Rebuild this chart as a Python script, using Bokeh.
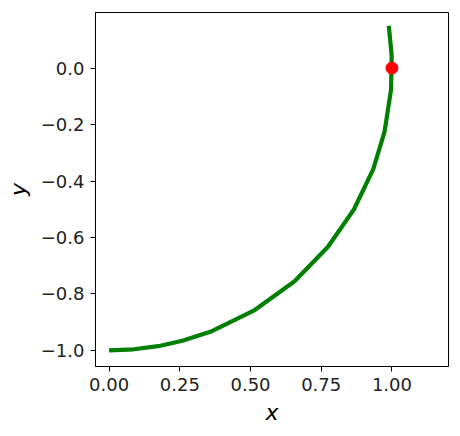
from bokeh.plotting import figure
from bokeh.models import FixedTicker, Range1d
from bokeh.embed import file_html
from bokeh.resources import INLINE

# curve points
curve_x = [0.000, 0.087, 0.174, 0.259, 0.358, 0.515, 0.656, 0.774, 0.866, 0.934, 0.974, 0.997, 0.999, 0.989]
curve_y = [-1.000, -0.996, -0.985, -0.966, -0.934, -0.857, -0.755, -0.633, -0.500, -0.358, -0.225, -0.075, 0.044, 0.150]
point_x = [1.0]
point_y = [0.0]
x_ticks = [0.0, 0.25, 0.5, 0.75, 1.0]
x_tick_labels = ["0.00", "0.25", "0.50", "0.75", "1.00"]
y_ticks = [-1.0, -0.8, -0.6, -0.4, -0.2, 0.0]
y_tick_labels = ["\u22121.0", "\u22120.8", "\u22120.6", "\u22120.4", "\u22120.2", "0.0"]

p = figure(width=452, height=430, output_backend="svg", toolbar_location=None,
           x_range=Range1d(-0.048, 1.2), y_range=Range1d(-1.057, 0.197),
           min_border_left=95, min_border_right=4, min_border_top=12, min_border_bottom=64)
p.grid.visible = False
p.outline_line_color = "black"
p.outline_line_width = 1
p.background_fill_color = "white"
p.border_fill_color = "white"

p.line(curve_x, curve_y, line_color="green", line_width=4.2)
p.scatter(point_x, point_y, size=12, fill_color="red", line_color="red")

for ax, ticks, labels in ((p.xaxis[0], x_ticks, x_tick_labels), (p.yaxis[0], y_ticks, y_tick_labels)):
    ax.ticker = FixedTicker(ticks=ticks)
    ax.major_label_overrides = {t: l for t, l in zip(ticks, labels)}
    ax.minor_tick_line_color = None
    ax.major_tick_out = 5
    ax.major_tick_in = 0
    ax.major_tick_line_color = "black"
    ax.axis_line_color = "black"
    ax.major_label_text_font = "DejaVu Sans"
    ax.major_label_text_font_size = "18px"
    ax.major_label_text_color = "#222222"
    ax.axis_label_text_font = "DejaVu Sans"
    ax.axis_label_text_font_size = "22px"
    ax.axis_label_text_font_style = "italic"
    ax.axis_label_text_color = "black"

p.xaxis.axis_label = "x"
p.yaxis.axis_label = "y"
p.xaxis.major_label_standoff = 6
p.yaxis.major_label_standoff = 6
p.xaxis.axis_label_standoff = 6
p.yaxis.axis_label_standoff = 7

open("out.html", "w").write(file_html(p, INLINE))
